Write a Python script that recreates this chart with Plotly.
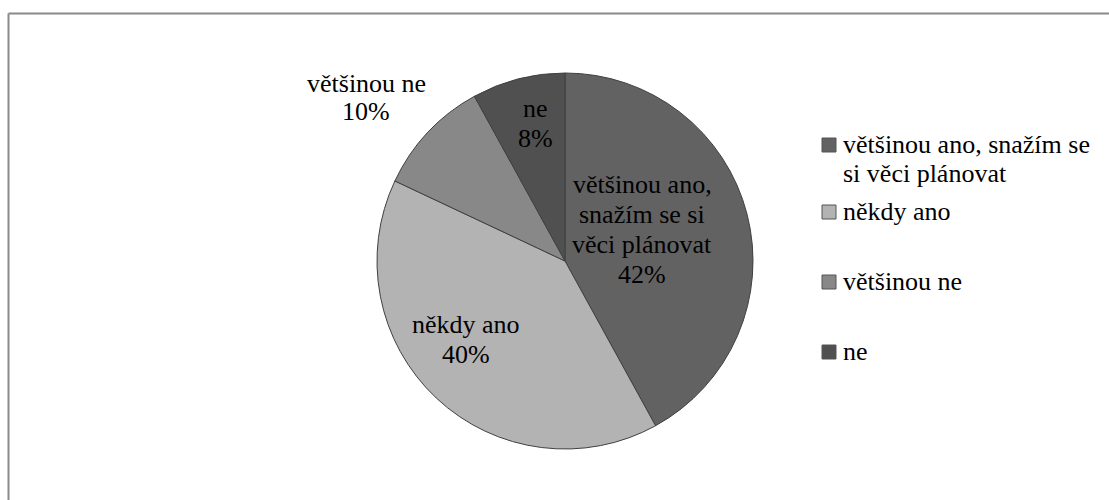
import textwrap
import plotly.graph_objects as go

# Survey answers and their shares (percent)
categories = ["většinou ano, snažím se si věci plánovat", "někdy ano", "většinou ne", "ne"]
values = [42, 40, 10, 8]
colors = ["#626262", "#b3b3b3", "#888888", "#505050"]

W, H = 1109, 500
FONT = "Liberation Serif"
FS = 26
LINE = 30          # line pitch of the wrapped text, px


def px(x):
    return x / W


def py(y):
    return 1 - y / H


def text_lines(lines, x, baseline, anchor, pitch=LINE):
    """One annotation per line so the line pitch can be set exactly."""
    out = []
    for i, line in enumerate(lines):
        b = baseline + i * pitch
        out.append(dict(
            x=px(x), y=py(b - 0.32 * FS), xref="paper", yref="paper",
            text=line, showarrow=False,
            xanchor=anchor, yanchor="middle", align=anchor,
            font=dict(family=FONT, size=FS, color="#000000"),
        ))
    return out


# pie placement (pixels): centre and radius
cx, cy, r = 565, 261, 188

fig = go.Figure(
    go.Pie(
        labels=categories,
        values=values,
        sort=False,
        direction="clockwise",
        rotation=0,
        marker=dict(colors=colors, line=dict(color="#404040", width=1)),
        textinfo="none",
        hoverinfo="label+percent",
        showlegend=False,
        domain=dict(x=[px(cx - r), px(cx + r)], y=[py(cy + r), py(cy - r)]),
    )
)

# data labels: category name wrapped + percent; (centre x, first baseline, pitch)
label_pos = [(642, 193, 30), (466, 333, 30), (366, 92, 28), (535, 117, 30)]
annotations = []
for cat, val, (lx, lb, pitch) in zip(categories, values, label_pos):
    lines = textwrap.wrap(cat, 14) + [f"{val}%"]
    annotations += text_lines(lines, lx, lb, "center", pitch)

# legend: swatch + wrapped category name, items spread evenly
legend_base = [153, 220, 290, 360]
shapes = []
for cat, col, lb in zip(categories, colors, legend_base):
    shapes.append(dict(
        type="rect", xref="paper", yref="paper",
        x0=px(822), x1=px(836), y0=py(lb - 1), y1=py(lb - 15),
        fillcolor=col, line=dict(color="#555555", width=1),
    ))
    annotations += text_lines(textwrap.wrap(cat, 23), 841, lb, "left", 29)

# chart-area frame (top and left edges visible)
shapes.append(dict(type="line", xref="paper", yref="paper",
                   x0=px(8.5), x1=px(8.5), y0=0, y1=py(13.5),
                   line=dict(color="#8a8a8a", width=2)))
shapes.append(dict(type="line", xref="paper", yref="paper",
                   x0=px(8.5), x1=1, y0=py(13.5), y1=py(13.5),
                   line=dict(color="#8a8a8a", width=2)))

fig.update_layout(
    width=W, height=H,
    margin=dict(l=0, r=0, t=0, b=0),
    paper_bgcolor="#ffffff",
    plot_bgcolor="#ffffff",
    annotations=annotations,
    shapes=shapes,
)

fig.write_html("out.html")
